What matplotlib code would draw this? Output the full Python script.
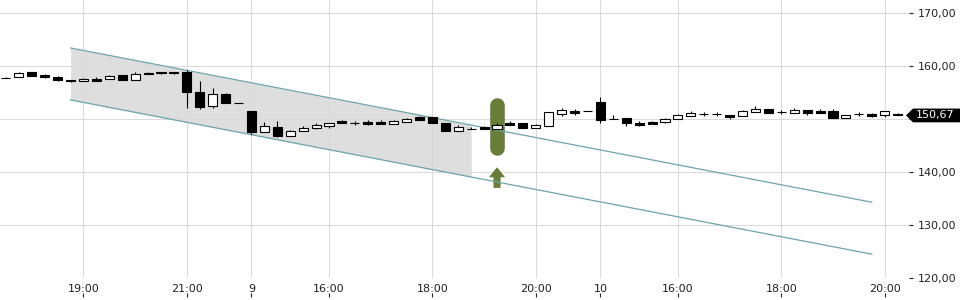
import numpy as np
import matplotlib
matplotlib.use("Agg")
import matplotlib.pyplot as plt
import matplotlib.transforms as mtransforms
from matplotlib.patches import Polygon

# 15-minute candles (open, high, low, close)
opens = [157.7, 157.9, 158.8, 158.3, 157.9, 157.3, 157.2, 157.5, 157.6, 158.3,
         157.3, 158.7, 158.8, 158.8, 158.9, 155.1, 152.5, 154.7, 153.0, 151.5,
         147.6, 148.5, 146.8, 147.7, 148.3, 148.6, 149.6, 149.2, 149.5, 149.4,
         149.1, 149.4, 150.3, 150.3, 149.2, 147.7, 148.1, 148.4, 148.2, 149.3,
         149.2, 148.3, 148.7, 151.0, 151.6, 151.45, 153.3, 150.0, 150.2, 149.3,
         149.4, 149.4, 150.0, 150.6, 150.9, 150.9, 150.8, 150.6, 151.3, 151.8,
         151.3, 151.2, 151.7, 151.5, 151.5, 150.2, 150.9, 150.9, 150.7, 151.0]
highs = [158.0, 158.8, 158.9, 158.5, 158.1, 157.3, 157.7, 158.0, 158.3, 158.3,
         158.9, 158.9, 158.8, 158.8, 159.2, 157.2, 155.8, 154.9, 153.0, 151.5,
         149.4, 149.6, 147.9, 148.6, 149.3, 149.2, 149.8, 149.6, 149.8, 149.8,
         149.9, 150.2, 150.5, 150.3, 149.2, 148.8, 148.5, 148.6, 149.3, 149.6,
         149.2, 149.1, 151.3, 152.1, 151.9, 151.45, 154.2, 150.8, 150.2, 149.6,
         149.6, 150.2, 151.0, 151.6, 151.3, 151.3, 150.8, 151.7, 152.5, 151.8,
         151.7, 152.0, 151.7, 151.9, 151.9, 150.8, 151.4, 151.2, 151.5, 151.1]
lows = [157.7, 157.9, 158.1, 157.7, 157.2, 156.9, 157.1, 157.2, 157.6, 157.3,
        157.3, 158.5, 158.5, 158.5, 152.1, 151.9, 152.1, 153.0, 153.0, 147.2,
        147.6, 146.6, 146.8, 147.7, 148.2, 148.3, 149.3, 148.8, 148.8, 149.0,
        149.1, 149.4, 149.9, 149.2, 147.7, 147.7, 148.1, 148.1, 148.2, 148.9,
        148.3, 148.3, 148.7, 150.6, 150.8, 151.45, 149.3, 150.0, 148.7, 148.7,
        149.0, 149.3, 150.0, 150.6, 150.6, 150.6, 150.0, 150.6, 151.3, 151.1,
        150.9, 151.2, 150.7, 151.1, 150.2, 150.2, 150.6, 150.3, 150.3, 150.67]
closes = [157.7, 158.7, 158.1, 157.9, 157.4, 157.1, 157.6, 157.2, 158.2, 157.3,
          158.5, 158.5, 158.6, 158.6, 155.1, 152.3, 154.7, 153.0, 153.0, 147.5,
          148.7, 146.7, 147.7, 148.3, 148.9, 149.2, 149.3, 149.2, 149.1, 149.0,
          149.6, 150.0, 149.9, 149.2, 147.7, 148.4, 148.1, 148.1, 148.9, 148.9,
          148.3, 148.8, 151.3, 151.7, 151.2, 151.45, 149.8, 150.0, 149.2, 148.9,
          149.1, 150.0, 150.7, 151.2, 150.9, 150.9, 150.3, 151.5, 151.8, 151.1,
          151.3, 151.7, 151.1, 151.1, 150.2, 150.8, 150.9, 150.5, 151.5, 150.67]

tick_pos = [6, 14, 19, 25, 33, 41, 46, 52, 60, 68]
tick_labels = ["19:00", "21:00", "9", "16:00", "18:00", "20:00", "10", "16:00", "18:00", "20:00"]
y_ticks = [120, 130, 140, 150, 160, 170]

# trend channel
channel_x = [5, 67]
channel_top = [163.4, 134.3]
channel_bottom = [153.6, 124.5]
shade_end = 36

# signal marker
signal_x = 38
signal_range = [144.5, 152.7]
arrow_base = 137.0
arrow_tip = 140.9

last_price = closes[-1]

x = np.arange(len(opens))
o = np.array(opens)
c = np.array(closes)

fig = plt.figure(figsize=(9.6, 3.0), dpi=100)
ax = fig.add_axes([0, 22 / 300, 909 / 960, 278 / 300])

ax.set_xlim(-0.46, 69.88)
ax.set_ylim(120, 172.45)
for s in ax.spines.values():
    s.set_visible(False)

ax.set_axisbelow(True)
ax.grid(True, color="#dadada", linewidth=0.75)

# channel
slope_t = (channel_top[1] - channel_top[0]) / (channel_x[1] - channel_x[0])
slope_b = (channel_bottom[1] - channel_bottom[0]) / (channel_x[1] - channel_x[0])
xs = np.array([channel_x[0], shade_end])
ax.fill_between(xs, channel_bottom[0] + slope_b * (xs - channel_x[0]),
                channel_top[0] + slope_t * (xs - channel_x[0]),
                color="#dedede", zorder=0.4, linewidth=0)
ax.plot(channel_x, channel_top, color="#6aa6aa", linewidth=0.9, zorder=3)
ax.plot(channel_x, channel_bottom, color="#6aa6aa", linewidth=0.9, zorder=3)

# signal capsule + arrow
ax.plot([signal_x, signal_x], signal_range, color="#687d38", linewidth=10.5,
        solid_capstyle="round", zorder=2)
ax.arrow(signal_x, arrow_base, 0, arrow_tip - arrow_base, width=0.55, head_width=1.25,
         head_length=1.9, length_includes_head=True, color="#687d38", linewidth=0, zorder=2)

# candles
ax.vlines(x, lows, highs, color="black", linewidth=0.8, zorder=4)
up = c >= o
ax.bar(x[up], (c - o)[up], bottom=o[up], width=0.7, facecolor="white",
       edgecolor="black", linewidth=0.8, zorder=5)
ax.bar(x[~up], (o - c)[~up], bottom=c[~up], width=0.7, facecolor="black",
       edgecolor="black", linewidth=0.8, zorder=5)

# axes ticks
ax.set_xticks(tick_pos)
ax.set_xticklabels(tick_labels)
ax.tick_params(axis="x", length=0, pad=4, labelsize=8, labelcolor="#222222")
ax.yaxis.tick_right()
ax.set_yticks(y_ticks)
ax.set_yticklabels(["" if v == 150 else f"{v:.2f}".replace(".", ",") for v in y_ticks])
ax.tick_params(axis="y", length=3, width=0.8, color="#222222", pad=3,
               labelsize=8, labelcolor="#222222")

sec = ax.secondary_xaxis(-0.055)
sec.set_xticks(tick_pos)
sec.set_xticklabels([])
sec.spines["bottom"].set_visible(False)
sec.tick_params(length=3, width=0.8, color="#222222")

# last price label
trans = mtransforms.blended_transform_factory(fig.transFigure, ax.transData)
h = 1.3
x_box = 913 / 960
x_tip = 906 / 960
tag = Polygon([(x_tip, last_price), (x_box, last_price + h), (1.0, last_price + h),
               (1.0, last_price - h), (x_box, last_price - h)],
              closed=True, transform=trans, facecolor="black", edgecolor="none",
              clip_on=False, zorder=10)
ax.add_patch(tag)
ax.text(935 / 960, last_price, f"{last_price:.2f}".replace(".", ","), transform=trans,
        ha="center", va="center", color="white", fontsize=8, clip_on=False, zorder=11)

fig.savefig("out.png", dpi=100)
